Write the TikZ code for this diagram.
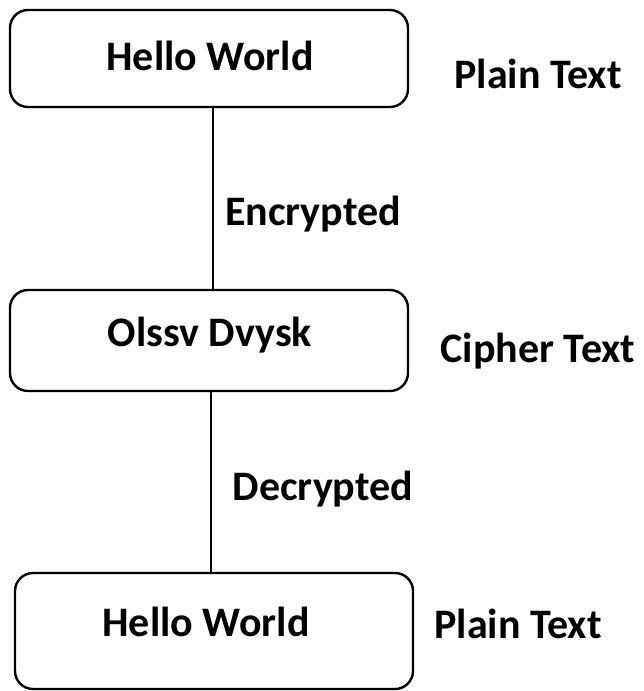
\documentclass[tikz,border=0pt]{standalone}
\usepackage{fontspec}
\setmainfont{Carlito}
\begin{document}
\begin{tikzpicture}[x=1pt,y=-1pt,
  box/.style={draw=black,line width=2.4pt,rounded corners=18pt,inner sep=0pt},
  lbl/.style={font=\fontsize{42}{50}\selectfont\bfseries,inner sep=0pt,anchor=base},
  conn/.style={draw=black,line width=2pt}]
\useasboundingbox (0,0) rectangle (643,691);
% boxes
\node[box,minimum width=398pt,minimum height=97pt] (b1) at (209,58.5) {};
\node[box,minimum width=398pt,minimum height=101pt] (b2) at (209,340.5) {};
\node[box,minimum width=398pt,minimum height=116pt] (b3) at (214,631) {};
% texts
\node[lbl] (t1) at (210,70) {Hello World};
\node[lbl] (p1) at (538,88) {Plain Text};
\node[lbl] (e1) at (313,225) {Encrypted};
\node[lbl] (t2) at (210,346) {Olssv Dvysk};
\node[lbl] (c2) at (538,362) {Cipher Text};
\node[lbl] (d2) at (323,500) {Decrypted};
\node[lbl] (t3) at (206,636) {Hello World};
\node[lbl] (p3) at (518,638) {Plain Text};
% connectors
\draw[conn] ([xshift=4pt]b1.south) -- ([xshift=4pt]b1.south |- b2.north);
\draw[conn] ([xshift=2pt]b2.south) -- ([xshift=2pt]b2.south |- b3.north);
\end{tikzpicture}
\end{document}
